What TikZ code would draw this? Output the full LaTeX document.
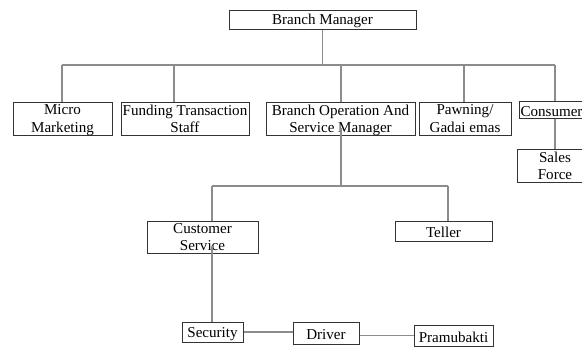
\documentclass[tikz,border=0pt]{standalone}
\usepackage{fontspec}
\usetikzlibrary{calc}
\setmainfont{Liberation Serif}
\newcommand{\pxu}{0.75pt}
\begin{document}
\begin{tikzpicture}[x=0.75pt,y=-0.75pt,
  box/.style={draw=black!80, line width=0.75pt, inner sep=0pt, align=center,
    font=\fontsize{11.3}{13}\selectfont},
  onebox/.style={box, text height=10.5pt},
  twobox/.style={box, text depth=-0.5pt},
  link/.style={draw=black!45, line width=0.9pt}]
\useasboundingbox (0,0) rectangle (582,347);
\clip (0,0) rectangle (582,347);
% boxes (centre, width, height in px)
\node[onebox, minimum width=187*\pxu, minimum height=19*\pxu] (bm) at (322.5,19.5) {Branch Manager};
\node[twobox, minimum width=99*\pxu, minimum height=33*\pxu] (mm) at (62.5,118.5) {Micro\\Marketing};
\node[twobox, minimum width=128*\pxu, minimum height=33*\pxu] (fund) at (185,118.5) {Funding Transaction\\Staff};
\node[twobox, minimum width=149*\pxu, minimum height=33*\pxu] (bo) at (340.5,118.5) {Branch Operation And\\Service Manager};
\node[twobox, minimum width=92*\pxu, minimum height=33*\pxu] (pawn) at (465,118.5) {Pawning/\\Gadai emas};
\node[box, minimum width=82*\pxu, minimum height=17*\pxu] (cons) at (560,109.5) {};
\node[font=\fontsize{11.3}{13}\selectfont, inner sep=0pt, text height=10.5pt] (consT) at (551.5,109.5) {Consumer};
\node[twobox, minimum width=76*\pxu, minimum height=33*\pxu] (sales) at (555,165.5) {Sales\\Force};
\node[twobox, minimum width=111*\pxu, minimum height=32*\pxu] (cs) at (202.5,237) {Customer\\Service};
\node[onebox, minimum width=97*\pxu, minimum height=20*\pxu] (teller) at (443.5,231) {Teller};
\node[onebox, minimum width=61*\pxu, minimum height=20*\pxu] (sec) at (212.5,332) {Security};
\node[onebox, minimum width=66*\pxu, minimum height=22*\pxu] (drv) at (326,333) {Driver};
\node[onebox, minimum width=79*\pxu, minimum height=21*\pxu] (pram) at (453.5,335.5) {Pramubakti};
% bus coordinates
\coordinate (busL) at (62,65);
\coordinate (busR) at (555,65);
\coordinate (jf) at (174,65);
\coordinate (jb) at (341,65);
\coordinate (jp) at (464,65);
\coordinate (bus2L) at (212,186);
\coordinate (bus2R) at (448,186);
\coordinate (jbo) at (341,186);
% connectors
\draw[link] (bm.south) -- (bm.south |- busL);
\draw[link] (busL) -- (busR);
\draw[link] (busL) -- (mm.north -| busL);
\draw[link] (jf) -- (fund.north -| jf);
\draw[link] (jb) -- (bo.north -| jb);
\draw[link] (jp) -- (pawn.north -| jp);
\draw[link] (busR) -- (cons.north -| busR);
\draw[link] (cons.south -| busR) -- (sales.north -| busR);
\draw[link] ($(bo.south -| jbo)+(0,-8)$) -- (jbo);
\draw[link] (bus2L) -- (bus2R);
\draw[link] (bus2L) -- (cs.north -| bus2L);
\draw[link] (bus2R) -- (teller.north -| bus2R);
\draw[link] ($(cs.south -| bus2L)+(0,-8)$) -- (sec.north -| bus2L);
\draw[link] (sec.east) -- (sec.east -| drv.west);
\draw[link] (pram.west) -- (pram.west -| drv.east);
\end{tikzpicture}
\end{document}
